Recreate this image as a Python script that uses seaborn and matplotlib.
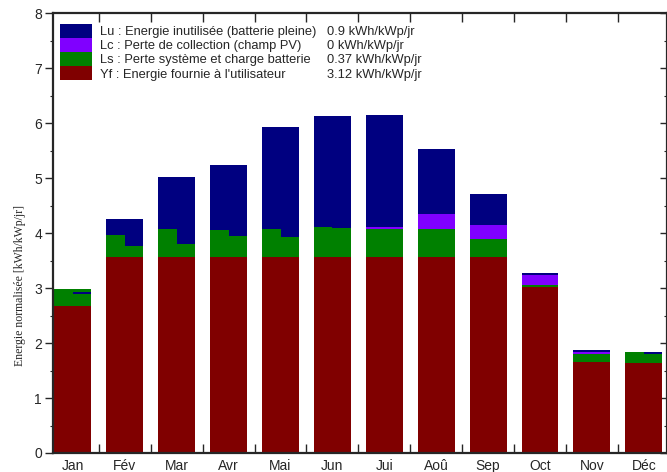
import numpy as np
import pandas as pd
import seaborn as sns
import matplotlib.pyplot as plt
from matplotlib.patches import Patch
from matplotlib.ticker import MultipleLocator

months = ["Jan", "Fév", "Mar", "Avr", "Mai", "Jun", "Jui", "Aoû", "Sep", "Oct", "Nov", "Déc"]

# full-width bars (kWh/kWp/jr)
yf = [2.67, 3.56, 3.56, 3.56, 3.56, 3.56, 3.56, 3.56, 3.56, 3.02, 1.66, 1.63]
ls = [0.31, 0.40, 0.51, 0.49, 0.52, 0.55, 0.51, 0.51, 0.33, 0.03, 0.14, 0.21]
lc = [0.00, 0.00, 0.00, 0.00, 0.00, 0.00, 0.05, 0.28, 0.26, 0.19, 0.03, 0.00]
lu = [0.00, 0.30, 0.96, 1.19, 1.86, 2.02, 2.03, 1.19, 0.57, 0.04, 0.04, 0.00]

# right half of each bar is drawn a second time with slightly different split
ls_half = [0.22, 0.21, 0.24, 0.39, 0.37, 0.54, 0.51, 0.51, 0.33, 0.03, 0.14, 0.18]
lc_half = [0.00, 0.00, 0.00, 0.00, 0.00, 0.00, 0.05, 0.28, 0.26, 0.19, 0.03, 0.00]
lu_half = [0.04, 0.49, 1.23, 1.29, 2.01, 2.03, 2.03, 1.19, 0.57, 0.04, 0.04, 0.03]

legend_labels = ["Lu : Energie inutilisée (batterie pleine)",
                 "Lc : Perte de collection (champ PV)",
                 "Ls : Perte système et charge batterie",
                 "Yf : Energie fournie à l'utilisateur"]
legend_values = ["0.9 kWh/kWp/jr", "0 kWh/kWp/jr", "0.37 kWh/kWp/jr", "3.12 kWh/kWp/jr"]

c_lu, c_lc, c_ls, c_yf = "#000080", "#8000ff", "#008000", "#800000"

sns.set_style("ticks")
plt.rcParams['font.family'] = ['Liberation Sans', 'DejaVu Sans']

pos = np.arange(1, 13)
full = pd.DataFrame({"x": pos, "yf": yf, "ls": ls, "lc": lc, "lu": lu})
half = pd.DataFrame({"x": pos + 0.1775, "yf": yf, "ls": ls_half, "lc": lc_half, "lu": lu_half})

fig = plt.figure(figsize=(6.67, 4.72), dpi=100)
ax = fig.add_axes([0.0795, 0.0403, 0.9205, 0.9311])

for df, w in [(full, 0.71), (half, 0.355)]:
    df["t_ls"] = df.yf + df.ls
    df["t_lc"] = df.t_ls + df.lc
    df["t_lu"] = df.t_lc + df.lu
    for col, color in [("t_lu", c_lu), ("t_lc", c_lc), ("t_ls", c_ls), ("yf", c_yf)]:
        sns.barplot(data=df, x="x", y=col, native_scale=True, width=w, color=color,
                    saturation=1, errorbar=None, linewidth=0, ax=ax)

ax.set_xlim(0.617, 12.447)
ax.set_ylim(0, 8)
ax.set_xticks(pos)
ax.set_xticklabels(months, fontsize=10)
ax.set_xticks(np.arange(1.5, 12), minor=True)
ax.tick_params(axis='x', which='major', length=0, pad=4)
ax.tick_params(axis='x', which='minor', direction='in', length=6.5, width=1, top=True, bottom=True)
ax.set_yticks(range(9))
ax.yaxis.set_minor_locator(MultipleLocator(0.5))
ax.tick_params(axis='y', which='major', direction='out', length=6, width=1, pad=2, labelsize=10)
ax.tick_params(axis='y', which='minor', direction='out', length=2.5, width=0.8)
ax.set_xlabel("")
ax.set_ylabel("Energie normalisée [kWh/kWp/jr]", fontsize=8.5, family=['Liberation Serif'], va='center')
ax.yaxis.set_label_coords(-0.054, 0.38)
for s in ax.spines.values():
    s.set_linewidth(1.6)
ax.spines['right'].set_visible(False)

sec = ax.secondary_yaxis('right')
sec.set_yticks(range(9))
sec.yaxis.set_minor_locator(MultipleLocator(0.5))
sec.tick_params(which='major', direction='in', length=5, width=1, labelright=False)
sec.tick_params(which='minor', direction='in', length=2, width=0.8)
sec.spines['right'].set_linewidth(1.6)

leg_fs = 9.3
handles = [Patch(facecolor=c, linewidth=0) for c in [c_lu, c_lc, c_ls, c_yf]]
leg = ax.legend(handles, legend_labels, loc='upper left', bbox_to_anchor=(0.0114, 0.976),
                frameon=False, fontsize=leg_fs, handlelength=2.48, handleheight=1.24,
                handletextpad=0.6, labelspacing=0, borderpad=0, borderaxespad=0)

fig.canvas.draw()
renderer = fig.canvas.get_renderer()
for t, v in zip(leg.get_texts(), legend_values):
    bb = t.get_window_extent(renderer)
    fig.text(327 / 667, (bb.y0 + bb.y1) / 2 / 472, v, ha='left', va='center', fontsize=leg_fs)

fig.savefig("out.png", dpi=100)
